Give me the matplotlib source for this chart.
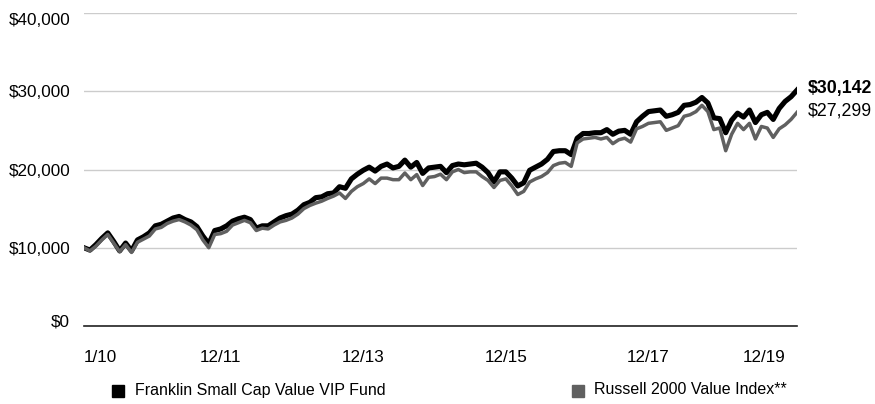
import matplotlib
matplotlib.use("Agg")
import matplotlib.pyplot as plt
from matplotlib.patches import Rectangle
from matplotlib.transforms import ScaledTranslation
import numpy as np

plt.rcParams['font.family'] = ['Liberation Sans', 'DejaVu Sans']

# growth of $10,000, monthly, start (1/10) to 12/19
fund = [10000, 9700, 10400, 11200, 11900, 10800, 9600, 10600, 9600, 11000,
        11400, 11900, 12800, 13000, 13400, 13800, 14000, 13600, 13300, 12700,
        11500, 10500, 12200, 12400, 12800, 13400, 13700, 13900, 13600, 12500,
        12800, 12800, 13300, 13800, 14100, 14300, 14800, 15500, 15800, 16400,
        16500, 16900, 17000, 17800, 17600, 18800, 19400, 19900, 20300, 19800,
        20400, 20700, 20200, 20400, 21200, 20300, 20900, 19500, 20200, 20300,
        20400, 19600, 20500, 20700, 20600, 20700, 20800, 20300, 19600, 18400,
        19700, 19700, 18900, 17900, 18300, 19900, 20300, 20700, 21300, 22300,
        22400, 22400, 21900, 24000, 24600, 24600, 24700, 24700, 25100, 24500,
        24900, 25000, 24500, 26100, 26800, 27400, 27500, 27600, 26800, 27000,
        27300, 28200, 28300, 28600, 29200, 28500, 26600, 26500, 24700, 26300,
        27200, 26700, 27600, 26000, 27000, 27300, 26400, 27800, 28700, 29300,
        30142]

index = [10000, 9600, 10200, 11000, 11700, 10600, 9500, 10400, 9400, 10700,
         11100, 11500, 12400, 12600, 13100, 13400, 13600, 13300, 12900, 12300,
         11000, 10000, 11700, 11800, 12100, 12900, 13200, 13500, 13200, 12200,
         12500, 12400, 12900, 13300, 13500, 13800, 14300, 15000, 15400, 15700,
         15950, 16300, 16600, 17000, 16300, 17200, 17800, 18200, 18800, 18200,
         18900, 18900, 18700, 18700, 19550, 18700, 19350, 17950, 19000, 19100,
         19400, 18700, 19700, 20000, 19600, 19700, 19700, 19100, 18600, 17700,
         18600, 18800, 17900, 16800, 17200, 18400, 18800, 19100, 19600, 20500,
         20800, 20900, 20400, 23400, 23900, 24000, 24100, 23900, 24100, 23300,
         23800, 24000, 23500, 25200, 25500, 25900, 26000, 26100, 25000, 25300,
         25600, 26800, 27000, 27400, 28200, 27400, 25100, 25300, 22400, 24500,
         25900, 25100, 25900, 23900, 25500, 25300, 24100, 25200, 25700, 26400,
         27299]

tick_pos = [0, 23, 47, 71, 95, 118]
tick_labels = ['1/10', '12/11', '12/13', '12/15', '12/17', '12/19']
yticks = [0, 10000, 20000, 30000, 40000]

fund_col = 'black'
index_col = '#606060'

fig = plt.figure(figsize=(8.75, 4.04), dpi=100)
ax = fig.add_axes([84/875, 1 - 326/404, 713/875, 313/404])

months = np.arange(len(fund))
ax.plot(months, fund, color=fund_col, lw=3.7, solid_joinstyle='round', zorder=3)
ax.plot(months, index, color=index_col, lw=2.5, solid_joinstyle='round', zorder=4)

ax.set_xlim(0, len(fund) - 1)
ax.set_ylim(0, 40000)
ax.set_yticks(yticks)
ax.set_yticklabels(['${:,}'.format(v) for v in yticks], fontsize=12.3)
ax.yaxis.grid(True, color='#cccccc', lw=1)
ax.set_axisbelow(True)
for s in ['top', 'right', 'left']:
    ax.spines[s].set_visible(False)
ax.spines['bottom'].set_color('#222222')
ax.spines['bottom'].set_linewidth(1.2)
ax.tick_params(axis='y', length=0, pad=10)
ax.tick_params(axis='x', length=0, pad=17)
ax.set_xticks(tick_pos)
ax.set_xticklabels(tick_labels, fontsize=12.3)
xl = ax.get_xticklabels()
xl[0].set_ha('left')
xl[-1].set_ha('right')
yl = ax.get_yticklabels()
yl[-1].set_va('top')
yl[0].set_transform(yl[0].get_transform() + ScaledTranslation(0, 4/72, fig.dpi_scale_trans))

# end values
ax.annotate('${:,}'.format(fund[-1]), xy=(months[-1], fund[-1]), xytext=(8, 1),
            textcoords='offset points', va='center', ha='left',
            fontsize=12.8, fontweight='bold', annotation_clip=False)
ax.annotate('${:,}'.format(index[-1]), xy=(months[-1], index[-1]), xytext=(8, 1),
            textcoords='offset points', va='center', ha='left',
            fontsize=12.8, annotation_clip=False)

# legend
fig.patches.append(Rectangle((112/875, 1 - 397/404), 12/875, 12/404,
                             transform=fig.transFigure, color=fund_col))
fig.text(135/875, 1 - 390/404, 'Franklin Small Cap Value VIP Fund',
         va='center', ha='left', fontsize=11.5)
fig.patches.append(Rectangle((572/875, 1 - 397/404), 12/875, 12/404,
                             transform=fig.transFigure, color=index_col))
fig.text(594/875, 1 - 390/404, 'Russell 2000 Value Index**',
         va='center', ha='left', fontsize=11.5)

fig.savefig('out.png', dpi=100)
